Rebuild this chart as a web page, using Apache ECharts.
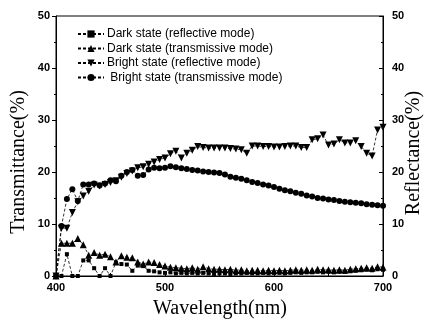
<!DOCTYPE html>
<html><head><meta charset="utf-8">
<script src="https://cdn.jsdelivr.net/npm/echarts@6/dist/echarts.min.js"></script>
<style>html,body{margin:0;padding:0;background:#fff}#c{width:433px;height:327px}</style>
</head><body><div id="c"></div>
<script>
var wavelengths = [];
for (var w = 400; w <= 700; w += 5) wavelengths.push(w);
var seriesNames = ['Dark state (reflective mode)','Dark state (transmissive mode)','Bright state (reflective mode)',' Bright state (transmissive mode)'];
var darkRefl = [0,0,4.2,0,0,3.0,3.0,1.5,0,1.5,
  0,2.6,2.3,2.2,1.0,2.0,1.9,1.0,0.9,0.7,
  0.6,0.7,0.5,0.6,0.5,0.6,0.5,0.6,0.5,0.4,
  0.5,0.5,0.4,0.5,0.5,0.6,0.5,0.5,0.6,0.5,
  0.6,0.6,0.5,0.6,0.7,0.6,0.7,0.7,0.8,0.7,
  0.8,0.7,0.8,0.8,0.9,1.0,1.1,1.2,1.1,1.3,
  1.2];
var darkTrans = [0,6.3,6.3,6.3,7.2,6.0,4.0,4.5,4.0,4.2,
  3.7,2.7,3.9,3.6,3.5,2.7,2.3,2.7,2.6,2.2,
  1.9,1.7,1.6,1.5,1.4,1.6,1.3,1.8,1.4,1.3,
  1.3,1.2,1.3,1.1,1.2,1.0,1.1,1.1,1.0,1.1,
  1.0,1.1,1.0,1.1,1.2,1.1,1.2,1.1,1.3,1.2,
  1.2,1.1,1.2,1.1,1.3,1.4,1.5,1.6,1.5,1.8,
  1.7];
var brightRefl = [0,9.2,9.2,12.2,14.3,15.4,16.3,17.5,17.3,17.6,
  18.0,18.3,19.0,19.7,20.2,20.8,21.0,21.5,21.9,22.4,
  22.7,23.5,24.0,22.7,23.6,24.2,24.9,24.7,24.6,24.6,
  24.6,24.6,24.5,24.4,24.3,23.6,25.0,25.0,24.9,24.9,
  24.8,24.8,24.9,25.0,25.0,24.7,24.7,26.2,26.4,27.1,
  25.2,25.4,26.2,25.6,25.6,26.0,24.9,23.6,23.1,28.1,
  28.6];
var brightTrans = [0,9.6,14.8,16.7,14.4,17.6,17.6,17.8,17.4,17.8,
  18.4,18.2,19.3,20.0,20.4,19.3,19.4,20.5,20.8,20.7,
  20.8,21.1,20.9,20.7,20.6,20.4,20.3,20.1,20.0,19.9,
  19.8,19.5,19.1,18.9,18.7,18.4,18.1,17.9,17.6,17.4,
  17.1,16.8,16.5,16.3,16.0,15.8,15.5,15.3,15.0,14.9,
  14.7,14.6,14.4,14.3,14.2,14.1,14.0,13.8,13.7,13.6,
  13.5];
var xTicks = [400,500,600,700];
var yTicks = [0,10,20,30,40,50];

function zip(vals){ return wavelengths.map(function(x,i){ return [x, vals[i]]; }); }
var tickFont = {fontFamily:'"Liberation Sans",Arial', fontWeight:'bold', fontSize:11, color:'#000'};
var serif = '"Liberation Serif","Times New Roman",serif';

var chart = echarts.init(document.getElementById('c'), null, {renderer:'canvas'});
function mkSeries(name, vals, yIdx, symbol, size, rot){
  return {
    name: name, type:'line', xAxisIndex:0, yAxisIndex:yIdx, data: zip(vals),
    symbol: symbol, symbolSize: size, symbolRotate: rot || 0, showAllSymbol:true,
    lineStyle:{color:'#000', width:0.8, type:[3,2]},
    itemStyle:{color:'#000', borderWidth:0},
    animation:false, z:3
  };
}
chart.setOption({
  backgroundColor:'#fff',
  animation:false,
  grid:{left:56, right:50, top:16, bottom:51, show:true, borderColor:'#000', borderWidth:1, backgroundColor:'transparent'},
  legend:{
    left:72, top:22, orient:'vertical', itemWidth:26, itemHeight:9, itemGap:0.5, selectedMode:false,
    textStyle:{fontFamily:'"Liberation Sans",Arial', fontSize:12, color:'#000', lineHeight:14, padding:[0,0,0,-2]},
    data: seriesNames
  },
  xAxis:[{
    type:'value', min:400, max:700, interval:100,
    axisLine:{lineStyle:{color:'#000', width:1}},
    axisTick:{inside:true, length:4, lineStyle:{color:'#000'}},
    minorTick:{show:true, splitNumber:2, length:3, lineStyle:{color:'#000'}},
    splitLine:{show:false},
    axisLabel:Object.assign({margin:6, formatter:function(v){return xTicks.indexOf(v)>=0? String(v):'';}}, tickFont)
  }],
  yAxis:[{
    type:'value', min:0, max:50, interval:10, position:'left',
    axisLine:{show:true, lineStyle:{color:'#000', width:1}},
    axisTick:{show:true, inside:false, length:4, lineStyle:{color:'#000'}},
    minorTick:{show:true, splitNumber:2, length:2, lineStyle:{color:'#000'}},
    splitLine:{show:false},
    axisLabel:Object.assign({margin:6, formatter:function(v){return yTicks.indexOf(v)>=0? String(v):'';}}, tickFont)
  },{
    type:'value', min:0, max:50, interval:10, position:'right',
    axisLine:{show:true, lineStyle:{color:'#000', width:1}},
    axisTick:{show:true, inside:true, length:4, lineStyle:{color:'#000'}},
    minorTick:{show:true, splitNumber:2, length:2, lineStyle:{color:'#000'}},
    splitLine:{show:false},
    axisLabel:Object.assign({margin:9, formatter:function(v){return yTicks.indexOf(v)>=0? String(v):'';}}, tickFont)
  }],
  graphic:[
    {type:'text', x:19, y:162, rotation:Math.PI/2, style:{text:'Transmittance(%)', font:'20px '+serif, fill:'#000', textAlign:'center', textVerticalAlign:'middle'}},
    {type:'text', x:414, y:153, rotation:Math.PI/2, style:{text:'Reflectance(%)', font:'20px '+serif, fill:'#000', textAlign:'center', textVerticalAlign:'middle'}},
    {type:'text', x:220, y:309, style:{text:'Wavelength(nm)', font:'20px '+serif, fill:'#000', textAlign:'center', textVerticalAlign:'middle'}}
  ],
  series:[
    mkSeries(seriesNames[0], darkRefl, 1, 'rect', 4),
    mkSeries(seriesNames[1], darkTrans, 0, 'triangle', 7),
    mkSeries(seriesNames[2], brightRefl, 1, 'triangle', 7, 180),
    mkSeries(seriesNames[3], brightTrans, 0, 'circle', 6)
  ]
});
</script></body></html>
